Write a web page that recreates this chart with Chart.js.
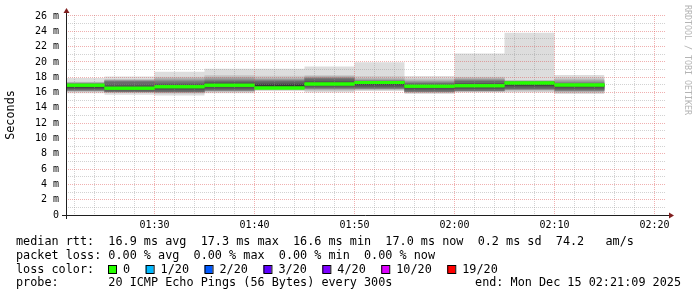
<!DOCTYPE html>
<html lang="en">
<head>
  <meta charset="UTF-8">
  <title>SmokePing - last hour</title>
  <script src="https://cdn.jsdelivr.net/npm/chart.js@4"></script>
  <style>
    body { margin: 0; background: #fff; }
    canvas { display: block; }
  </style>
</head>
<body>
<canvas id="myChart" width="697" height="297"></canvas>
<script>
// time window of the graph and 5 minute steps
const viewStart = '01:21:09';
const viewEnd = '02:21:09';
const stepStart = ['01:20', '01:25', '01:30', '01:35', '01:40', '01:45', '01:50', '01:55', '02:00', '02:05', '02:10'];
const stepEnd = '02:15';
const xTickLabels = ['01:30', '01:40', '01:50', '02:00', '02:10', '02:20'];
const yTickValues = [0, 2, 4, 6, 8, 10, 12, 14, 16, 18, 20, 22, 24, 26];

// median rtt (ms) and lost pings (of 20) per step
const median = [16.95, 16.55, 16.75, 16.95, 16.6, 17.1, 17.3, 16.82, 16.9, 17.25, 17.0];
const loss = [0, 0, 0, 0, 0, 0, 0, 0, 0, 0, 0];

// the 20 ping times of every step, sorted (ms) - this is the smoke
const pings = [
  [15.9, 16.1, 16.15, 16.2, 16.25, 16.28, 16.3, 16.45, 16.6, 16.75, 16.85, 16.95, 17.02, 17.1, 17.18, 17.25, 17.3, 17.35, 17.4, 17.9],
  [15.7, 15.95, 16.0, 16.03, 16.06, 16.08, 16.1, 16.25, 16.4, 16.5, 16.6, 16.75, 17.05, 17.4, 17.5, 17.58, 17.64, 17.7, 17.75, 18.1],
  [15.6, 15.85, 15.95, 16.0, 16.05, 16.08, 16.1, 16.3, 16.5, 16.65, 16.8, 16.95, 17.1, 17.3, 17.5, 17.65, 17.8, 17.92, 18.05, 18.7],
  [15.9, 16.05, 16.15, 16.2, 16.25, 16.28, 16.3, 16.5, 16.7, 16.9, 17.0, 17.15, 17.35, 17.5, 17.65, 17.8, 17.95, 18.1, 18.3, 19.1],
  [16.2, 16.3, 16.38, 16.45, 16.5, 16.53, 16.55, 16.6, 16.7, 16.8, 16.95, 17.1, 17.3, 17.5, 17.6, 17.7, 17.8, 17.95, 18.2, 19.1],
  [16.0, 16.2, 16.3, 16.4, 16.48, 16.52, 16.55, 16.75, 16.95, 17.1, 17.2, 17.35, 17.55, 17.8, 17.9, 17.98, 18.05, 18.15, 18.3, 19.4],
  [16.2, 16.3, 16.38, 16.45, 16.5, 16.53, 16.55, 16.75, 16.95, 17.15, 17.25, 17.35, 17.4, 17.45, 17.55, 17.65, 17.75, 17.9, 18.16, 19.95],
  [15.8, 15.95, 16.0, 16.05, 16.1, 16.12, 16.15, 16.35, 16.55, 16.7, 16.8, 16.9, 17.05, 17.2, 17.3, 17.45, 17.55, 17.7, 17.86, 18.15],
  [16.0, 16.08, 16.13, 16.17, 16.2, 16.23, 16.25, 16.45, 16.65, 16.8, 16.9, 17.05, 17.25, 17.5, 17.6, 17.7, 17.8, 17.92, 18.05, 21.1],
  [16.0, 16.15, 16.25, 16.32, 16.38, 16.42, 16.45, 16.65, 16.85, 17.05, 17.2, 17.3, 17.35, 17.4, 17.45, 17.5, 17.53, 17.56, 17.6, 23.8],
  [15.8, 15.95, 16.05, 16.15, 16.2, 16.25, 16.3, 16.5, 16.7, 16.85, 16.95, 17.05, 17.1, 17.15, 17.3, 17.45, 17.6, 17.75, 17.95, 18.3]
];

// loss colour legend
const lossLevels = [0, 1, 2, 3, 4, 10, 19];
const lossLabels = ['0', '1/20', '2/20', '3/20', '4/20', '10/20', '19/20'];
const lossColors = ['#26ff00', '#00b8ff', '#0059ff', '#5e00ff', '#7e00ff', '#dd00ff', '#ff0000'];

// legend texts
const rttLine = 'median rtt:  16.9 ms avg  17.3 ms max  16.6 ms min  17.0 ms now  0.2 ms sd  74.2   am/s';
const lossLine = 'packet loss: 0.00 % avg  0.00 % max  0.00 % min  0.00 % now';
const probeLine = 'probe:       20 ICMP Echo Pings (56 Bytes) every 300s';
const endLine = 'end: Mon Dec 15 02:21:09 2025';
const watermark = 'RRDTOOL / TOBI OETIKER';

const MONO = '"DejaVu Sans Mono", "Liberation Mono", monospace';

// "hh:mm" or "hh:mm:ss" -> minutes
const toMin = s => {
  const p = s.split(':').map(Number);
  return p[0] * 60 + p[1] + (p[2] || 0) / 60;
};
const fmt = m => String(Math.floor(m / 60)).padStart(2, '0') + ':' + String(m % 60).padStart(2, '0');

const starts = stepStart.map(toMin);
const ends = starts.slice(1).concat([toMin(stepEnd)]);

const lossColor = n => {
  let c = lossColors[0];
  lossLevels.forEach((lv, i) => { if (n >= lv) c = lossColors[i]; });
  return c;
};

// median: one flat piece per step, no joins
const medianPoints = [];
median.forEach((m, i) => {
  medianPoints.push({ x: starts[i], y: m }, { x: ends[i], y: m }, { x: ends[i], y: null });
});

// with stepped 'before' a point's value holds until the next point
const stepPoints = vals => {
  const pts = vals.map((v, i) => ({ x: starts[i], y: v }));
  pts.push({ x: ends[ends.length - 1], y: vals[vals.length - 1] });
  return pts;
};

const datasets = [{
  label: 'median',
  data: medianPoints,
  borderColor: '#26ff00',
  borderWidth: 3,
  borderCapStyle: 'butt',
  pointRadius: 0,
  spanGaps: false,
  fill: false,
  clip: 0,
  segment: {
    borderColor: ctx => lossColor(loss[Math.floor(ctx.p0DataIndex / 3)])
  }
}];

// smoke layers, innermost (darkest) first so it is drawn last
for (let k = 10; k >= 1; k--) {
  const shade = Math.floor(190 / 10 * (10 - k)) + 50;
  const grey = `rgb(${shade},${shade},${shade})`;
  const hiIndex = datasets.length;
  datasets.push({
    label: 'smoke' + k,
    data: stepPoints(pings.map(p => p[20 - k])),
    stepped: 'before',
    borderWidth: 0,
    borderColor: 'transparent',
    backgroundColor: grey,
    pointRadius: 0,
    fill: hiIndex + 1
  });
  datasets.push({
    label: 'smoke' + k + 'lo',
    data: stepPoints(pings.map(p => p[k - 1])),
    stepped: 'before',
    borderWidth: 0,
    borderColor: 'transparent',
    pointRadius: 0,
    fill: false
  });
}

const decor = {
  id: 'decor',
  afterDraw(chart) {
    const { ctx, chartArea: a } = chart;

    // median goes over the grid
    ctx.save();
    ctx.beginPath();
    ctx.rect(a.left + 1, a.top, a.right - a.left - 1, a.bottom - a.top);
    ctx.clip();
    chart.getDatasetMeta(0).controller.draw();
    ctx.restore();

    ctx.save();
    // axes
    ctx.strokeStyle = '#1f1f1f';
    ctx.lineWidth = 1;
    ctx.beginPath();
    ctx.moveTo(a.left + 0.5, a.bottom + 4);
    ctx.lineTo(a.left + 0.5, a.top - 3);
    ctx.moveTo(a.left - 4, a.bottom + 0.5);
    ctx.lineTo(a.right + 3, a.bottom + 0.5);
    ctx.stroke();
    // arrows
    ctx.fillStyle = '#801f1f';
    ctx.beginPath();
    ctx.moveTo(a.left + 0.5, a.top - 7);
    ctx.lineTo(a.left - 2.5, a.top - 2);
    ctx.lineTo(a.left + 3.5, a.top - 2);
    ctx.closePath();
    ctx.fill();
    ctx.beginPath();
    ctx.moveTo(a.right + 8, a.bottom + 0.5);
    ctx.lineTo(a.right + 3, a.bottom - 2.5);
    ctx.lineTo(a.right + 3, a.bottom + 3.5);
    ctx.closePath();
    ctx.fill();

    // watermark
    ctx.save();
    ctx.translate(687, 5);
    ctx.rotate(Math.PI / 2);
    ctx.font = '8.3px ' + MONO;
    ctx.fillStyle = '#b4b4b4';
    ctx.textBaseline = 'middle';
    ctx.fillText(watermark, 0, 0);
    ctx.restore();

    // legend
    ctx.font = '11.8px ' + MONO;
    ctx.fillStyle = '#000';
    ctx.textBaseline = 'middle';
    ctx.textAlign = 'left';
    ctx.fillText(rttLine, 16, 242);
    ctx.fillText(lossLine, 16, 255.5);
    ctx.fillText('loss color:', 16, 269.5);
    ctx.fillText(probeLine, 16, 283);
    ctx.textAlign = 'right';
    ctx.fillText(endLine, 681, 283);
    ctx.textAlign = 'left';

    let x = 108;
    lossLabels.forEach((lab, i) => {
      ctx.fillStyle = lossColors[i];
      ctx.fillRect(x, 265, 8, 8);
      ctx.strokeStyle = '#000';
      ctx.strokeRect(x + 0.5, 265.5, 8, 8);
      ctx.fillStyle = '#000';
      ctx.fillText(lab, x + 15, 269.5);
      x += 15 + ctx.measureText(lab).width + 15.5;
    });
    ctx.restore();
  }
};

const MAJOR = 'rgba(222,79,79,0.45)';
const MINOR = 'rgba(143,143,143,0.4)';

new Chart(document.getElementById('myChart'), {
  type: 'line',
  data: { datasets },
  plugins: [decor],
  options: {
    responsive: false,
    animation: false,
    events: [],
    layout: { padding: { top: 15, right: 31, left: 0, bottom: 0 } },
    plugins: {
      legend: { display: false },
      tooltip: { enabled: false }
    },
    scales: {
      x: {
        type: 'linear',
        min: toMin(viewStart),
        max: toMin(viewEnd),
        afterBuildTicks: axis => {
          const t = [];
          for (let m = Math.ceil(axis.min / 2) * 2; m <= axis.max; m += 2) t.push({ value: m });
          axis.ticks = t;
        },
        afterFit: axis => { axis.height = 82; },
        grid: {
          z: 1,
          drawTicks: false,
          color: c => (c.tick && c.tick.value % 10 === 0) ? MAJOR : MINOR
        },
        border: { display: false, dash: [1, 1] },
        ticks: {
          autoSkip: false,
          maxRotation: 0,
          padding: 4,
          color: '#000',
          font: { family: MONO, size: 10 },
          callback: v => xTickLabels.includes(fmt(v)) ? fmt(v) : ''
        }
      },
      y: {
        min: 0,
        max: 26.13,
        afterBuildTicks: axis => {
          const t = [];
          for (let v = 0; v <= yTickValues[yTickValues.length - 1]; v++) t.push({ value: v });
          axis.ticks = t;
        },
        afterFit: axis => { axis.width = 66; },
        grid: {
          z: 1,
          drawTicks: false,
          color: c => (c.tick && yTickValues.includes(c.tick.value)) ? MAJOR : MINOR
        },
        border: { display: false, dash: [1, 1] },
        title: {
          display: true,
          text: 'Seconds',
          color: '#000',
          padding: { top: 4, bottom: 0 },
          font: { family: MONO, size: 11.8 }
        },
        ticks: {
          autoSkip: false,
          padding: 7,
          color: '#000',
          font: { family: MONO, size: 10 },
          callback: v => yTickValues.includes(v) ? (v === 0 ? '0' : v + ' m') : ''
        }
      }
    }
  }
});
</script>
</body>
</html>
